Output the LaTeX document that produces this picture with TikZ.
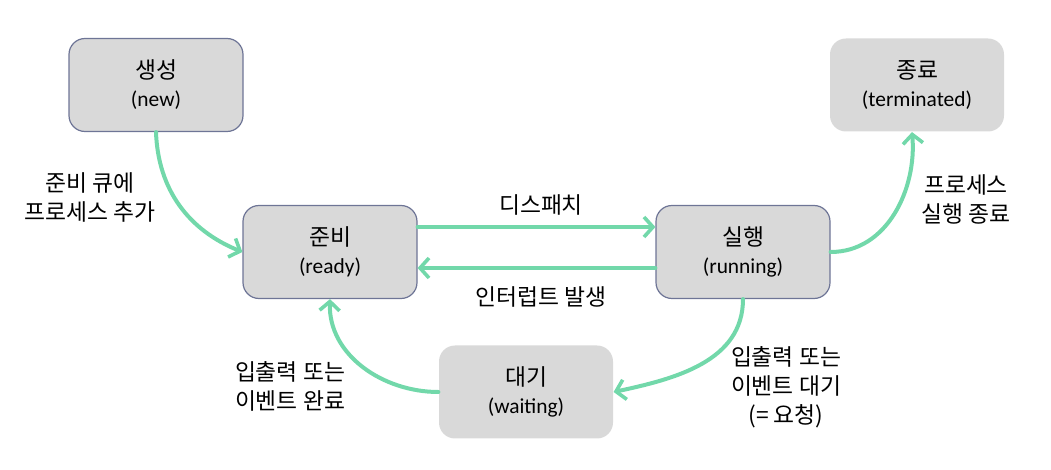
\documentclass[tikz,border=0pt]{standalone}
\usepackage{fontspec}
\setmainfont{Carlito}
\newfontfamily\kr{Noto Sans CJK KR}
\usetikzlibrary{positioning,arrows.meta}

\definecolor{boxfill}{HTML}{D9D9D9}
\definecolor{boxline}{HTML}{6E7596}
\definecolor{flow}{HTML}{72D8AA}

\newcommand{\krtitle}[1]{{\kr\fontsize{11.4}{14}\selectfont #1}}

\tikzset{
    state/.style={rectangle, rounded corners=8pt, fill=boxfill, draw=boxline,
        line width=0.6pt, minimum width=87pt, minimum height=46.5pt,
        align=center, font=\fontsize{10.7}{14}\selectfont},
    endstate/.style={state, draw=none},
    trans/.style={-{Straight Barb[length=4.5pt,width=10pt,line width=1.8pt]},
        draw=flow, line width=2pt, line cap=round},
    lbl/.style={align=center, font=\kr\fontsize{11.4}{14.5}\selectfont}
}

\begin{document}
\begin{tikzpicture}[x=0.5pt,y=-0.5pt]
        % Canvas
        \useasboundingbox (0,0) rectangle (1051,470);

        % States
        \node[state] (new) at (156,85) {\krtitle{생성}\\(new)};
        \node[endstate] (term) at (917,85) {\krtitle{종료}\\(terminated)};
        \node[state] (ready) at (330,252) {\krtitle{준비}\\(ready)};
        \node[state] (run) at (743,252) {\krtitle{실행}\\(running)};
        \node[endstate] (wait) at (526,392) {\krtitle{대기}\\(waiting)};

        % Transitions
        \draw[trans] (new.south) to[out=-88,in=158] (ready.west);
        \draw[trans] ([yshift=12.5pt]ready.east) -- ([yshift=12.5pt]run.west);
        \draw[trans] ([yshift=-8pt]run.west) -- ([yshift=-8pt]ready.east);
        \draw[trans] (run.east) to[out=0,in=-85] ([xshift=-2.5pt]term.south);
        \draw[trans] (run.south) to[out=-90,in=12] (wait.east);
        \draw[trans] (wait.west) to[out=180,in=-92] (ready.south);

        % Labels
        \node[lbl] (addq) at (90,197) {준비 큐에\\프로세스 추가};
        \node[lbl] (disp) at (541,205) {디스패치};
        \node[lbl] (intr) at (541,297) {인터럽트 발생};
        \node[lbl] (exit) at (966,199) {프로세스\\실행 종료};
        \node[lbl] (iowait) at (786,387) {입출력 또는\\이벤트 대기\\(= 요청)};
        \node[lbl] (iodone) at (290,386) {입출력 또는\\이벤트 완료};
    \end{tikzpicture}
\end{document}
